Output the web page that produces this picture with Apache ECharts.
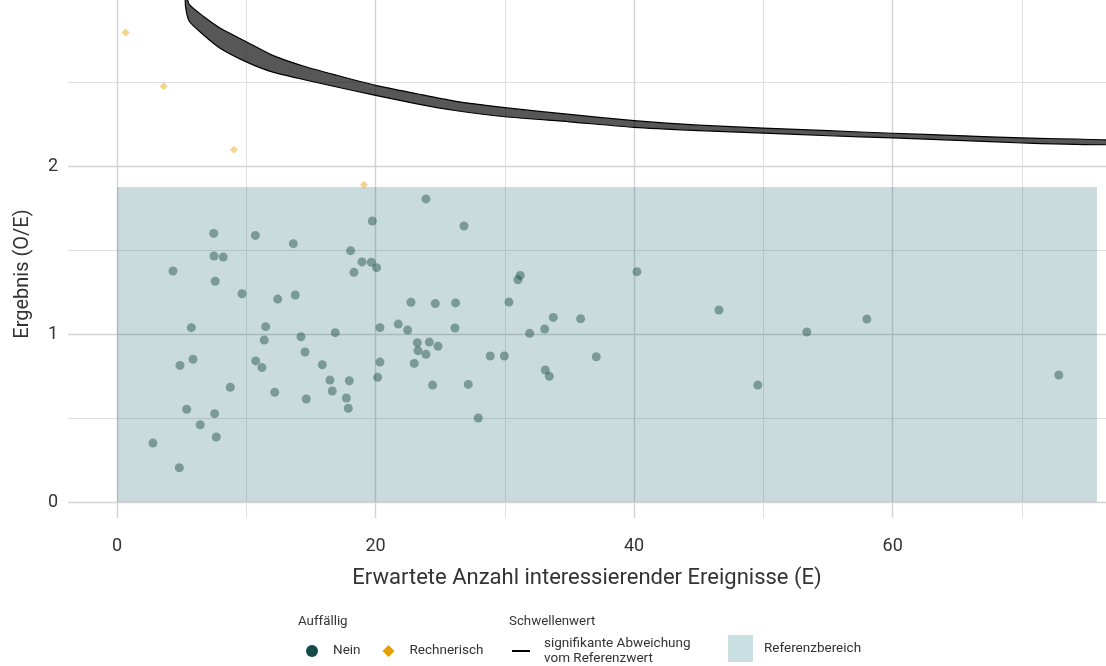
<!DOCTYPE html>
<html>
<head>
<meta charset="utf-8">
<script src="https://cdn.jsdelivr.net/npm/echarts@6/dist/echarts.min.js"></script>
<style>
  html, body { margin: 0; padding: 0; background: #fff; }
  #chart { width: 1106px; height: 666px; }
</style>
</head>
<body>
<div id="chart"></div>
<script>
// Standorte ohne Auffälligkeit: erwartete Ereignisse (E) und Ergebnis (O/E)
const neinE = [7.48, 10.70, 13.64, 19.75, 7.50, 8.22, 4.33, 18.07, 18.95, 19.67,
  20.08, 18.33, 7.60, 9.67, 12.43, 13.79, 5.75, 11.50, 11.39, 14.23,
  16.88, 20.34, 14.54, 5.88, 10.73, 4.87, 8.76, 5.39, 7.55, 6.44,
  7.68, 2.78, 4.82, 11.21, 15.88, 16.47, 17.97, 16.65, 12.20, 14.64,
  17.74, 17.89, 20.34, 20.16, 23.90, 26.84, 31.19, 31.01, 22.74, 24.62,
  26.19, 30.32, 33.75, 35.86, 21.76, 22.48, 26.14, 33.08, 31.92, 23.23,
  24.16, 24.83, 23.28, 23.90, 22.99, 28.87, 29.96, 37.07, 33.13, 33.44,
  24.41, 27.17, 27.94, 40.22, 46.56, 53.36, 58.00, 49.57, 72.85];
const neinOE = [1.599, 1.587, 1.538, 1.673, 1.464, 1.458, 1.375, 1.496, 1.429, 1.427,
  1.395, 1.367, 1.314, 1.240, 1.208, 1.232, 1.038, 1.044, 0.964, 0.984,
  1.008, 1.038, 0.893, 0.850, 0.840, 0.813, 0.683, 0.552, 0.526, 0.460,
  0.387, 0.351, 0.204, 0.800, 0.817, 0.726, 0.722, 0.661, 0.653, 0.613,
  0.619, 0.558, 0.833, 0.742, 1.804, 1.643, 1.349, 1.323, 1.189, 1.181,
  1.185, 1.190, 1.099, 1.091, 1.059, 1.024, 1.036, 1.030, 1.004, 0.948,
  0.952, 0.927, 0.901, 0.879, 0.825, 0.869, 0.869, 0.865, 0.786, 0.748,
  0.696, 0.700, 0.500, 1.371, 1.143, 1.012, 1.089, 0.696, 0.756];

// Rechnerisch auffällige Standorte
const rechnerischE = [0.67, 3.61, 9.05, 19.1];
const rechnerischOE = [2.794, 2.474, 2.097, 1.889];

// Schwellenwert (signifikante Abweichung): obere und untere Kante des Sägezahnverlaufs
const schwelleE     = [5.3,  5.6,  6.7,  8,    10,   12,   14.4,  17,    20,   23.2, 26,    30,    35,    40,   45,    50,    55,    60,    65,    70,    77];
const schwelleOben  = [3.03, 2.96, 2.89, 2.82, 2.74, 2.66, 2.595, 2.54,  2.48, 2.43, 2.388, 2.347, 2.307, 2.27, 2.243, 2.226, 2.21,  2.195, 2.181, 2.167, 2.153];
const schwelleUnten = [2.95, 2.86, 2.78, 2.70, 2.62, 2.56, 2.515, 2.47,  2.42, 2.37, 2.332, 2.293, 2.263, 2.23, 2.211, 2.196, 2.18,  2.167, 2.153, 2.137, 2.127];

// Referenzbereich: E von/bis, O/E von/bis
const referenzE = [0, 75.8];
const referenzOE = [0, 1.875];

// Achsenteilung
const xMajorTicks = [0, 20, 40, 60];
const xMinorTicks = [10, 30, 50, 70];
const yMajorTicks = [0, 1, 2];
const yMinorTicks = [0.5, 1.5, 2.5];

const nameSchwelle = 'signifikante Abweichung\nvom Referenzwert';
const FONT = 'Roboto';
const TEXT = '#333333';

const chart = echarts.init(document.getElementById('chart'), null, { renderer: 'canvas' });

function clipRect(params) {
  const cs = params.coordSys;
  return { type: 'rect', shape: { x: cs.x, y: cs.y, width: cs.width, height: cs.height } };
}

const option = {
  backgroundColor: '#ffffff',
  animation: false,
  textStyle: { fontFamily: FONT },
  grid: { left: 68, right: 0, top: 0, bottom: 148, containLabel: false },
  xAxis: [
    {
      type: 'value', min: -3.79, max: 76.5,
      name: 'Erwartete Anzahl interessierender Ereignisse (E)',
      nameLocation: 'middle', nameGap: 49,
      nameTextStyle: { fontFamily: FONT, fontSize: 22, color: TEXT },
      axisLine: { show: false },
      axisTick: { show: false, customValues: xMajorTicks },
      axisLabel: { customValues: xMajorTicks, margin: 19, fontFamily: FONT, fontSize: 18, color: TEXT },
      splitLine: { show: true, lineStyle: { color: '#d3d3d3', width: 1.4 } }
    },
    {
      type: 'value', min: -3.79, max: 76.5, position: 'bottom',
      axisLine: { show: false },
      axisTick: { show: false, customValues: xMinorTicks },
      axisLabel: { show: false },
      splitLine: { show: true, lineStyle: { color: '#e0e0e0', width: 1 } }
    }
  ],
  yAxis: [
    {
      type: 'value', min: -0.095, max: 2.988,
      name: 'Ergebnis (O/E)',
      nameLocation: 'middle', nameGap: 35,
      nameTextStyle: { fontFamily: FONT, fontSize: 20, color: TEXT, padding: [0, 30, 0, 0] },
      axisLine: { show: false },
      axisTick: { show: false, customValues: yMajorTicks },
      axisLabel: { customValues: yMajorTicks, margin: 10, fontFamily: FONT, fontSize: 18, color: TEXT },
      splitLine: { show: true, lineStyle: { color: '#d3d3d3', width: 1.4 } }
    },
    {
      type: 'value', min: -0.095, max: 2.988, position: 'left',
      axisLine: { show: false },
      axisTick: { show: false, customValues: yMinorTicks },
      axisLabel: { show: false },
      splitLine: { show: true, lineStyle: { color: '#e0e0e0', width: 1 } }
    }
  ],
  graphic: [
    { type: 'text', left: 298, top: 615, style: { text: 'Auffällig', fontFamily: FONT, fontSize: 13.3, fill: TEXT } },
    { type: 'text', left: 509, top: 615, style: { text: 'Schwellenwert', fontFamily: FONT, fontSize: 13.3, fill: TEXT } }
  ],
  legend: [
    {
      left: 306, top: 644, padding: 0, orient: 'horizontal',
      itemWidth: 12, itemHeight: 12, itemGap: 22,
      textStyle: { fontFamily: FONT, fontSize: 13.5, color: TEXT, padding: [0, 0, 0, 10] },
      data: [
        { name: 'Nein', icon: 'circle', itemStyle: { color: '#164c48', opacity: 1 } },
        { name: 'Rechnerisch', icon: 'diamond', itemStyle: { color: '#e69f00', opacity: 1 } }
      ]
    },
    {
      left: 512, top: 636, padding: 0,
      itemWidth: 18, itemHeight: 2,
      textStyle: { fontFamily: FONT, fontSize: 13.5, color: TEXT, lineHeight: 15, padding: [0, 0, 0, 9] },
      data: [{ name: nameSchwelle, icon: 'rect', itemStyle: { color: '#000000', opacity: 1 } }]
    },
    {
      left: 728, top: 635, padding: 0,
      itemWidth: 25, itemHeight: 27,
      textStyle: { fontFamily: FONT, fontSize: 13.5, color: TEXT, padding: [0, 0, 0, 6] },
      data: [{ name: 'Referenzbereich', icon: 'rect', itemStyle: { color: '#cadfe1', opacity: 1 } }]
    }
  ],
  series: [
    {
      name: 'Referenzbereich',
      type: 'custom',
      xAxisIndex: 0, yAxisIndex: 0,
      z: 1,
      itemStyle: { color: '#cadfe1' },
      data: [[referenzE[0], referenzOE[0], referenzE[1], referenzOE[1]]],
      renderItem: function (params, api) {
        const p0 = api.coord([api.value(0), api.value(1)]);
        const p1 = api.coord([api.value(2), api.value(3)]);
        return {
          type: 'rect',
          shape: { x: p0[0], y: p1[1], width: p1[0] - p0[0], height: p0[1] - p1[1] },
          style: { fill: 'rgba(25,100,110,0.23)' }
        };
      }
    },
    {
      name: nameSchwelle,
      type: 'custom',
      xAxisIndex: 0, yAxisIndex: 0,
      z: 4,
      itemStyle: { color: '#000000' },
      data: [[schwelleE[0], schwelleOben[0]]],
      renderItem: function (params, api) {
        const pts = [];
        for (let i = 0; i < schwelleE.length; i++) pts.push(api.coord([schwelleE[i], schwelleOben[i]]));
        for (let i = schwelleE.length - 1; i >= 0; i--) pts.push(api.coord([schwelleE[i], schwelleUnten[i]]));
        return {
          type: 'polygon',
          shape: { points: pts, smooth: 0.2 },
          style: { fill: 'rgba(0,0,0,0.66)', stroke: '#000000', lineWidth: 1.2 },
          clipPath: clipRect(params)
        };
      }
    },
    {
      name: 'Nein',
      type: 'scatter',
      xAxisIndex: 0, yAxisIndex: 0,
      z: 3,
      symbol: 'circle', symbolSize: 9,
      itemStyle: { color: '#164c48', opacity: 0.45 },
      data: neinE.map((e, i) => [e, neinOE[i]])
    },
    {
      name: 'Rechnerisch',
      type: 'scatter',
      xAxisIndex: 0, yAxisIndex: 0,
      z: 3,
      symbol: 'diamond', symbolSize: 8,
      itemStyle: { color: '#e69f00', opacity: 0.45 },
      data: rechnerischE.map((e, i) => [e, rechnerischOE[i]])
    }
  ]
};

chart.setOption(option);
</script>
</body>
</html>
